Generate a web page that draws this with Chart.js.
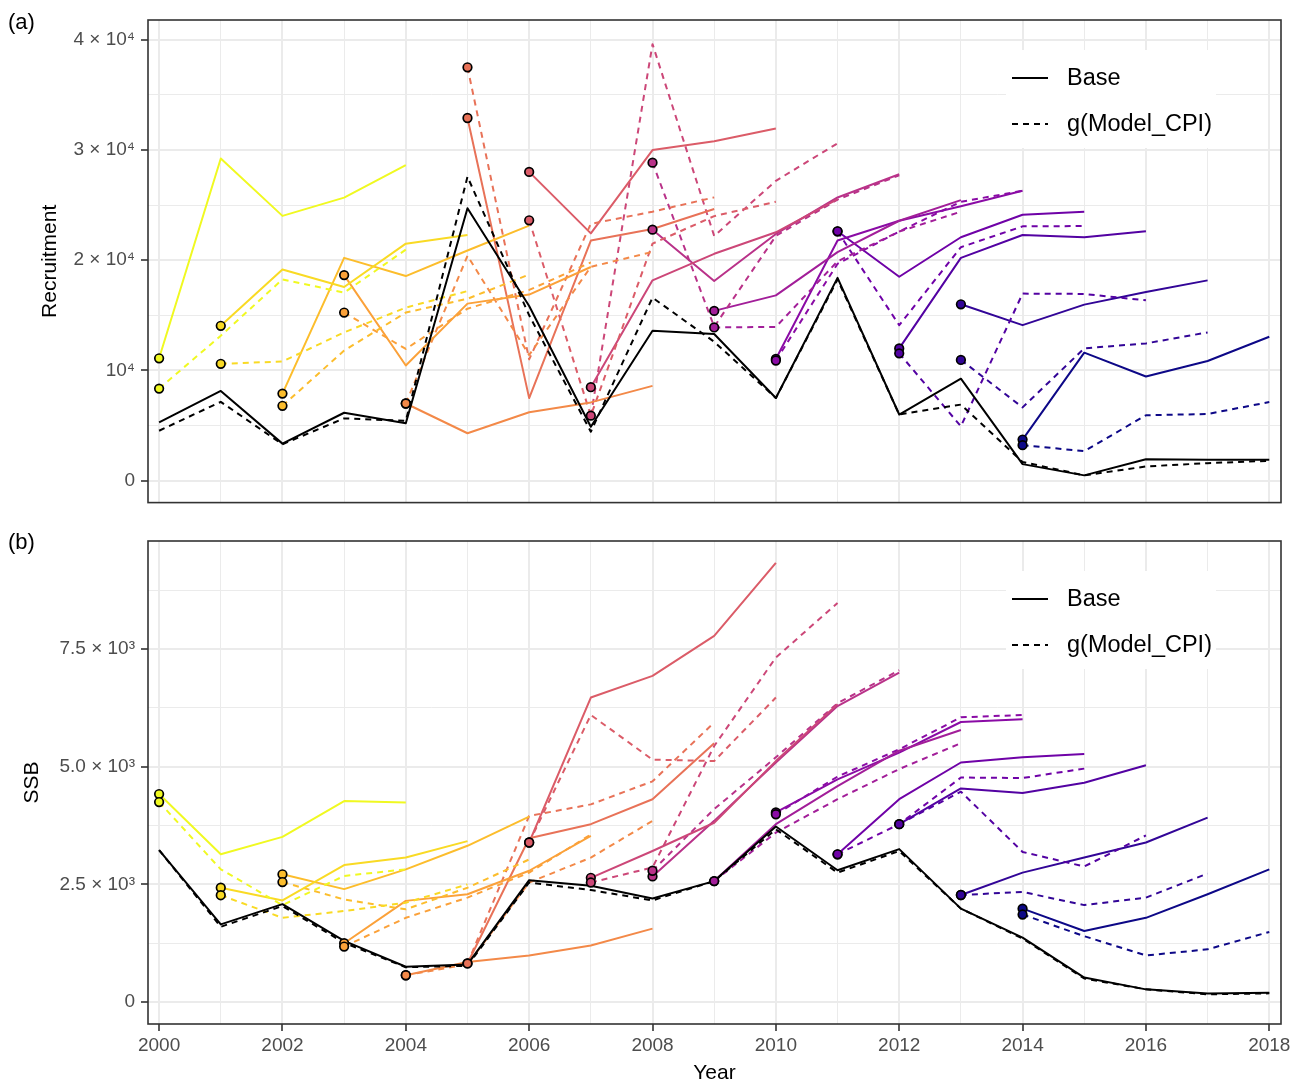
<!DOCTYPE html>
<html>
<head>
<meta charset="utf-8">
<script src="https://cdn.jsdelivr.net/npm/chart.js@4.4.1/dist/chart.umd.min.js"></script>
<style>
  body { margin: 0; background: #fff; }
  #wrap { position: relative; width: 1304px; height: 1086px; font-family: "Liberation Sans", Arial, Helvetica, sans-serif; }
  canvas { position: absolute; left: 0; }
  #recChart { top: 0; }
  #ssbChart { top: 520px; }
  .tag { position: absolute; left: 8px; font-size: 22px; color: #000; line-height: 26px; }
</style>
</head>
<body>
<div id="wrap">
  <canvas id="recChart" width="1304" height="520"></canvas>
  <canvas id="ssbChart" width="1304" height="566"></canvas>
  <div class="tag" style="top:9px">(a)</div>
  <div class="tag" style="top:529px">(b)</div>
</div>
<script>
const FONT = '"Liberation Sans", Arial, Helvetica, sans-serif';

// x axis
const years = [2000, 2001, 2002, 2003, 2004, 2005, 2006, 2007, 2008, 2009,
               2010, 2011, 2012, 2013, 2014, 2015, 2016, 2017, 2018];
const legendLabels = ['Base', 'g(Model_CPI)'];

// retrospective peels: first year of each, coloured with plasma (yellow -> blue)
const peelStarts = [2000, 2001, 2002, 2003, 2004, 2005, 2006, 2007, 2008, 2009, 2010, 2011, 2012, 2013, 2014];
const peelColors = ['#f0f921', '#f9da24', '#fcbd2c', '#fba139', '#f38948', '#e87258', '#db5c68', '#cc4778',
                    '#b93289', '#a21e99', '#8a0ba5', '#6f02a7', '#5302a2', '#320597', '#0d0887'];

// (a) Recruitment
const recBase = [5290, 8140, 3360, 6160, 5200, 24710, 15850, 4890, 13600, 13300,
                 7500, 18400, 6000, 9250, 1500, 480, 1950, 1900, 1890];
const recCPI  = [4530, 7150, 3300, 5650, 5430, 27570, 15000, 4440, 16600, 12600,
                 7500, 18250, 6000, 6900, 1700, 480, 1290, 1590, 1800];
const recPeelBase = [
  [11100, 29220, 24020, 25680, 28620],
  [14050, 19160, 17570, 21500, 22290],
  [7900, 20210, 18560, 20880, 23130],
  [18650, 10450, 16060, 16880, 19380],
  [7000, 4300, 6200, 7100, 8600],
  [32900, 7490, 21780, 22830, 24640],
  [28010, 22430, 29990, 30800, 31950],
  [8480, 18170, 20580, 22530, 25540],
  [22770, 18110, 22380, 25690, 27800],
  [15400, 16810, 20730, 23580, 25450],
  [11040, 21780, 23580, 24900, 26300],
  [22620, 18500, 22080, 24120, 24400],
  [12000, 20210, 22290, 22080, 22620],
  [16000, 14110, 15970, 17120, 18170],
  [3730, 11610, 9450, 10860, 13060]
];
const recPeelCPI = [
  [8350, 13150, 18260, 17060, 20960],
  [10600, 10810, 13450, 15700, 17200],
  [6790, 11800, 15250, 16500, 18700],
  [15250, 11950, 15600, 17300, 19800],
  [7000, 20400, 11400, 19400, 20750],
  [37500, 11000, 23300, 24400, 25700],
  [23620, 5900, 21500, 24000, 25300],
  [5900, 39600, 22200, 27200, 30600],
  [28850, 13960, 22200, 25500, 27700],
  [13900, 13950, 19900, 22600, 24400],
  [10900, 19670, 22600, 25300, 26300],
  [22620, 14100, 21180, 23070, 23100],
  [11550, 4930, 16970, 16940, 16360],
  [10950, 6650, 12000, 12450, 13450],
  [3220, 2680, 5930, 6050, 7130]
];
const recTicks = [0, 5000, 10000, 15000, 20000, 25000, 30000, 35000, 40000];
const recTickLabels = ['0', '', '10\u2074', '', '2 \u00d7 10\u2074', '', '3 \u00d7 10\u2074', '', '4 \u00d7 10\u2074'];

// (b) SSB
const ssbBase = [3230, 1650, 2080, 1300, 750, 800, 2590, 2470, 2200, 2570,
                 3730, 2800, 3250, 1985, 1370, 520, 270, 180, 200];
const ssbCPI  = [3230, 1600, 2040, 1260, 740, 770, 2540, 2380, 2160, 2570,
                 3670, 2750, 3210, 1985, 1350, 500, 270, 165, 185];
const ssbPeelBase = [
  [4420, 3140, 3510, 4270, 4240],
  [2430, 2160, 2910, 3070, 3420],
  [2715, 2400, 2820, 3320, 3940],
  [1250, 2150, 2290, 2790, 3530],
  [570, 850, 990, 1200, 1560],
  [820, 3480, 3780, 4310, 5500],
  [3390, 6470, 6930, 7780, 9330],
  [2640, 3210, 3810, 5120, 6330],
  [2670, 3850, 5090, 6290, 7000],
  [2570, 3780, 4590, 5340, 5780],
  [4030, 4730, 5300, 5950, 6010],
  [3140, 4310, 5090, 5200, 5270],
  [3780, 4540, 4440, 4660, 5030],
  [2275, 2750, 3070, 3390, 3920],
  [1985, 1510, 1790, 2290, 2820]
];
const ssbPeelCPI = [
  [4250, 2820, 2060, 2680, 2820],
  [2270, 1790, 1935, 2110, 2500],
  [2550, 2180, 1970, 2430, 3030],
  [1180, 1790, 2220, 2750, 3560],
  [570, 800, 2540, 3070, 3850],
  [820, 3955, 4200, 4690, 5940],
  [3390, 6100, 5150, 5120, 6470],
  [2540, 2860, 5440, 7320, 8480],
  [2790, 4100, 5200, 6350, 7050],
  [2570, 3600, 4310, 4950, 5500],
  [3990, 4790, 5370, 6050, 6100],
  [3140, 3780, 4770, 4760, 4960],
  [3780, 4470, 3190, 2880, 3540],
  [2275, 2340, 2060, 2220, 2730],
  [1860, 1400, 990, 1120, 1490]
];
const ssbTicks = [0, 1250, 2500, 3750, 5000, 6250, 7500, 8750];
const ssbTickLabels = ['0', '', '2.5 \u00d7 10\u00b3', '', '5.0 \u00d7 10\u00b3', '', '7.5 \u00d7 10\u00b3', ''];

// legend + panel border drawn around the plot area
const panelDecor = {
  id: 'panelDecor',
  beforeDatasetsDraw(chart) {
    const { ctx, chartArea: a } = chart;
    ctx.save();
    ctx.fillStyle = '#fff';
    ctx.fillRect(a.right - 275, a.top + 30, 210, 98);
    legendLabels.forEach((lab, i) => {
      const y = a.top + 58 + i * 46;
      ctx.beginPath();
      ctx.setLineDash(i ? [6, 5] : []);
      ctx.strokeStyle = '#000';
      ctx.lineWidth = 2;
      ctx.moveTo(a.right - 269, y);
      ctx.lineTo(a.right - 233, y);
      ctx.stroke();
      ctx.setLineDash([]);
      ctx.fillStyle = '#000';
      ctx.font = '23.5px ' + FONT;
      ctx.textBaseline = 'middle';
      ctx.fillText(lab, a.right - 214, y + 1);
    });
    ctx.restore();
  },
  afterDatasetsDraw(chart) {
    const { ctx, chartArea: a } = chart;
    ctx.save();
    ctx.strokeStyle = '#333333';
    ctx.lineWidth = 1.6;
    ctx.strokeRect(a.left, a.top, a.right - a.left, a.bottom - a.top);
    ctx.restore();
  }
};

function series(start, values) {
  return values.map((v, i) => ({ x: start + i, y: v }));
}

function buildDatasets(base, cpi, peelBase, peelCPI) {
  const sets = [];
  sets.push({ label: 'Base', data: series(years[0], base), borderColor: '#000', borderWidth: 2, order: 1 });
  sets.push({ label: 'g(Model_CPI)', data: series(years[0], cpi), borderColor: '#000', borderWidth: 2, borderDash: [6, 5], order: 1 });
  peelStarts.forEach((s, i) => {
    sets.push({ label: 'Base ' + s, data: series(s, peelBase[i]), borderColor: peelColors[i], borderWidth: 2, order: 2 });
    sets.push({ label: 'CPI ' + s, data: series(s, peelCPI[i]), borderColor: peelColors[i], borderWidth: 2, borderDash: [6, 5], order: 2 });
  });
  // start points of each peel
  const dots = [], dotColors = [];
  peelStarts.forEach((s, i) => {
    dots.push({ x: s, y: peelBase[i][0] }, { x: s, y: peelCPI[i][0] });
    dotColors.push(peelColors[i], peelColors[i]);
  });
  sets.push({ label: 'start', data: dots, showLine: false, pointRadius: 4.3, pointBorderWidth: 1.7,
              pointBorderColor: '#000', pointBackgroundColor: dotColors, order: 0 });
  return sets;
}

function makeChart(id, cfg) {
  const majorY = v => cfg.tickLabels[cfg.ticks.indexOf(v)] !== '';
  return new Chart(document.getElementById(id), {
    type: 'line',
    data: { datasets: buildDatasets(cfg.base, cfg.cpi, cfg.peelBase, cfg.peelCPI) },
    plugins: [panelDecor],
    options: {
      responsive: false,
      animation: false,
      events: [],
      layout: { padding: { left: cfg.padLeft, top: cfg.padTop, right: 23, bottom: 0 } },
      elements: {
        line: { tension: 0, borderJoinStyle: 'round', fill: false },
        point: { radius: 0 }
      },
      plugins: { legend: { display: false }, tooltip: { enabled: false } },
      scales: {
        x: {
          type: 'linear',
          min: 1999.82,
          max: 2018.19,
          afterBuildTicks: s => { s.ticks = years.map(v => ({ value: v })); },
          afterFit: s => { s.height = cfg.xHeight; },
          border: { display: false },
          grid: {
            color: '#EBEBEB',
            lineWidth: c => (c.tick && c.tick.value % 2 === 0) ? 2 : 1,
            drawTicks: cfg.showX,
            tickLength: 7,
            tickColor: c => (c.tick && c.tick.value % 2 === 0) ? '#333333' : 'rgba(0,0,0,0)',
            tickWidth: 1.6
          },
          ticks: {
            display: cfg.showX,
            autoSkip: false,
            maxRotation: 0,
            padding: 3,
            color: '#4D4D4D',
            font: { family: FONT, size: 19 },
            callback: v => (v % 2 === 0 ? String(v) : '')
          },
          title: {
            display: cfg.showX,
            text: 'Year',
            color: '#000',
            padding: { top: 0, bottom: 0 },
            font: { family: FONT, size: 21 }
          }
        },
        y: {
          min: cfg.yMin,
          max: cfg.yMax,
          afterBuildTicks: s => { s.ticks = cfg.ticks.map(v => ({ value: v })); },
          afterFit: s => { s.width = cfg.yWidth; },
          border: { display: false },
          grid: {
            color: '#EBEBEB',
            lineWidth: c => (c.tick && majorY(c.tick.value)) ? 2 : 1,
            tickLength: 7,
            tickColor: c => (c.tick && majorY(c.tick.value)) ? '#333333' : 'rgba(0,0,0,0)',
            tickWidth: 1.6
          },
          ticks: {
            padding: 6,
            color: '#4D4D4D',
            font: { family: FONT, size: 19 },
            callback: (v, i) => cfg.tickLabels[i]
          },
          title: {
            display: true,
            text: cfg.yTitle,
            color: '#000',
            padding: { top: 0, bottom: 0 },
            font: { family: FONT, size: 21 }
          }
        }
      }
    }
  });
}

makeChart('recChart', {
  base: recBase, cpi: recCPI, peelBase: recPeelBase, peelCPI: recPeelCPI,
  ticks: recTicks, tickLabels: recTickLabels, yMin: -1990, yMax: 41790,
  yTitle: 'Recruitment', showX: false,
  padLeft: 38, yWidth: 110, padTop: 20, xHeight: 15
});

makeChart('ssbChart', {
  base: ssbBase, cpi: ssbCPI, peelBase: ssbPeelBase, peelCPI: ssbPeelCPI,
  ticks: ssbTicks, tickLabels: ssbTickLabels, yMin: -466, yMax: 9796,
  yTitle: 'SSB', showX: true,
  padLeft: 20, yWidth: 128, padTop: 21, xHeight: 62
});
</script>
</body>
</html>
